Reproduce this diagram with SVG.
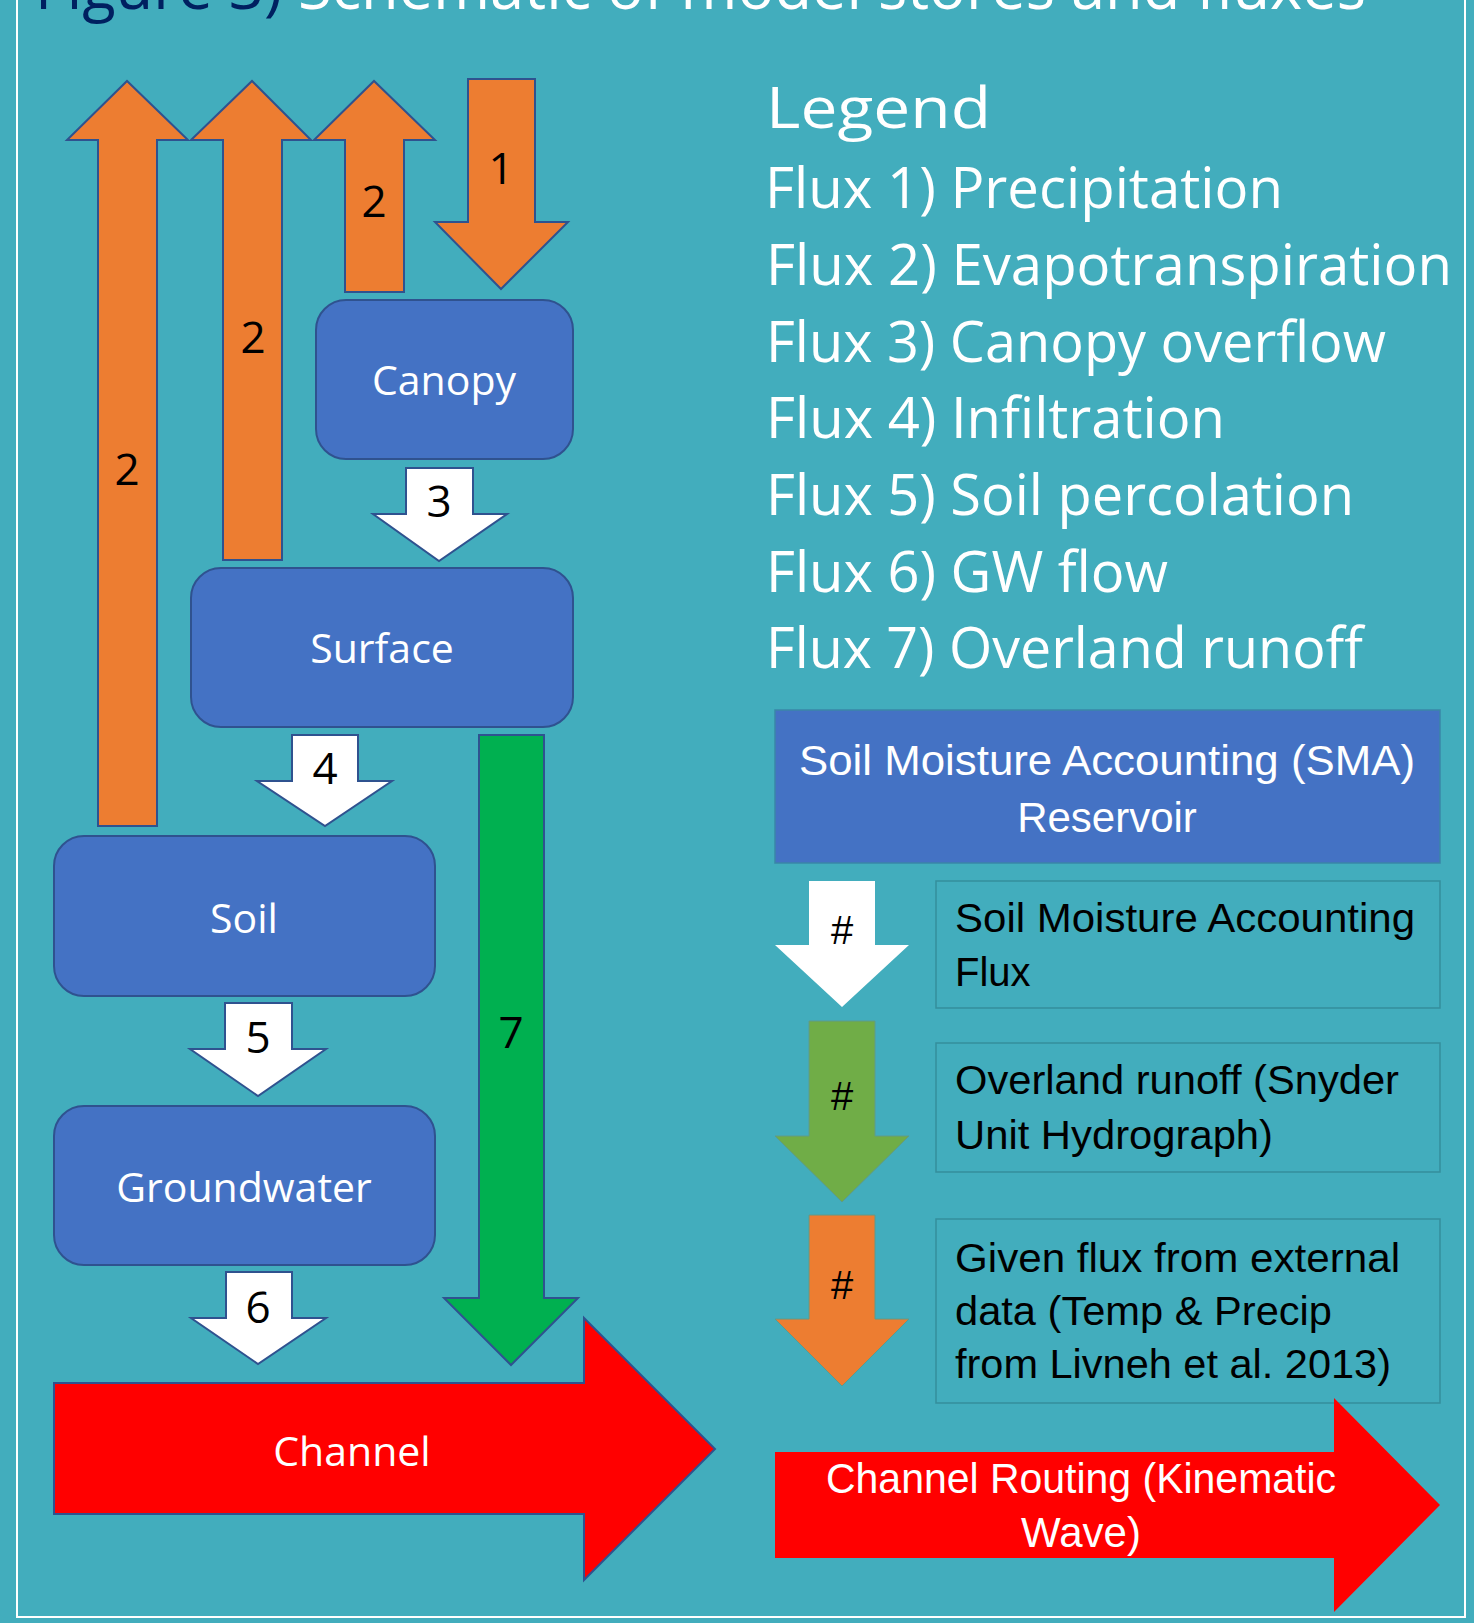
<svg xmlns="http://www.w3.org/2000/svg" width="1474" height="1623" viewBox="0 0 1474 1623">
<style>
.arr{stroke:#2F528F;stroke-width:2;stroke-linejoin:miter}
.or{fill:#ED7D31}
.wh{fill:#FFFFFF}
.gr{fill:#00B050}
.red{fill:#FF0000}
.node{fill:#4472C4;stroke:#2F528F;stroke-width:2}
.nl{font-family:"Open Sans","Liberation Sans",sans-serif;font-size:41px;fill:#FFFFFF;text-anchor:middle}
.num{font-family:"Open Sans","Liberation Sans",sans-serif;font-size:44px;fill:#000000;text-anchor:middle}
.leg{font-family:"Open Sans","Liberation Sans",sans-serif;font-size:56px;fill:#FFFFFF}
.box{fill:none;stroke:#358E9C;stroke-width:1.5}
.bt{font-family:"Liberation Sans",Arial,sans-serif;font-size:40px;fill:#000000}
.hash{font-family:"Liberation Sans",Arial,sans-serif;font-size:40px;fill:#000000;text-anchor:middle}
.lw{font-family:"Liberation Sans",Arial,sans-serif;font-size:42px;fill:#FFFFFF;text-anchor:middle}
</style>
<rect x="0" y="0" width="1474" height="1623" fill="#42ADBD"/>
<rect x="17" y="-10" width="1448" height="1627" fill="none" stroke="#FFFFFF" stroke-width="2"/>
<text x="35" y="9" font-family="'Open Sans','Liberation Sans',sans-serif" font-size="62" textLength="1331" lengthAdjust="spacingAndGlyphs"><tspan fill="#002060">Figure 3)</tspan><tspan fill="#FFFFFF"> Schematic of model stores and fluxes</tspan></text>

<g id="connectors">
  <g id="flux2a"><polygon class="arr or" points="98,826 98,140 67,140 127,81 188,140 157,140 157,826"/><text class="num" x="127" y="485">2</text></g>
  <g id="flux2b"><polygon class="arr or" points="223,560 223,140 191,140 252,81 311,140 282,140 282,560"/><text class="num" x="253" y="353">2</text></g>
  <g id="flux2c"><polygon class="arr or" points="345,292 345,140 314,140 374,81 435,140 404,140 404,292"/><text class="num" x="374" y="217">2</text></g>
  <g id="flux1"><polygon class="arr or" points="468,79 535,79 535,222 568,222 501,289 435,222 468,222"/><text class="num" x="501" y="184">1</text></g>
  <g id="flux3"><polygon class="arr wh" points="406,468 473,468 473,514 507,514 439,561 373,514 406,514"/><text class="num" x="439" y="517">3</text></g>
  <g id="flux4"><polygon class="arr wh" points="292,735 358,735 358,781 392,781 325,826 257,781 292,781"/><text class="num" x="325" y="784">4</text></g>
  <g id="flux7"><polygon class="arr gr" points="479,735 544,735 544,1298 578,1298 511,1365 444,1298 479,1298"/><text class="num" x="511" y="1048">7</text></g>
  <g id="flux5"><polygon class="arr wh" points="225,1003 292,1003 292,1049 326,1049 258,1096 190,1049 225,1049"/><text class="num" x="258" y="1053">5</text></g>
  <g id="flux6"><polygon class="arr wh" points="226,1272 292,1272 292,1318 326,1318 258,1364 191,1318 226,1318"/><text class="num" x="258" y="1323">6</text></g>
</g>

<g id="canopy"><rect class="node" x="316" y="300" width="257" height="159" rx="30"/><text class="nl" x="444" y="395">Canopy</text></g>
<g id="surface"><rect class="node" x="191" y="568" width="382" height="159" rx="30"/><text class="nl" x="382" y="663">Surface</text></g>
<g id="soil"><rect class="node" x="54" y="836" width="381" height="160" rx="30"/><text class="nl" x="244" y="933">Soil</text></g>
<g id="groundwater"><rect class="node" x="54" y="1106" width="381" height="159" rx="30"/><text class="nl" x="244" y="1202">Groundwater</text></g>
<g id="channel"><polygon class="arr red" points="54,1383 584,1383 584,1318 715,1449 584,1580 584,1514 54,1514"/><text class="nl" x="352" y="1466">Channel</text></g>

<g id="legend">
  <text class="leg" x="766" y="128" font-size="70" textLength="225" lengthAdjust="spacingAndGlyphs">Legend</text>
  <text class="leg" x="765" y="208" textLength="518" lengthAdjust="spacingAndGlyphs">Flux 1) Precipitation</text>
  <text class="leg" x="766" y="285" textLength="686" lengthAdjust="spacingAndGlyphs">Flux 2) Evapotranspiration</text>
  <text class="leg" x="766" y="362" textLength="620" lengthAdjust="spacingAndGlyphs">Flux 3) Canopy overflow</text>
  <text class="leg" x="766" y="438" textLength="459" lengthAdjust="spacingAndGlyphs">Flux 4) Infiltration</text>
  <text class="leg" x="766" y="515" textLength="588" lengthAdjust="spacingAndGlyphs">Flux 5) Soil percolation</text>
  <text class="leg" x="766" y="592" textLength="402" lengthAdjust="spacingAndGlyphs">Flux 6) GW flow</text>
  <text class="leg" x="766" y="668" textLength="597" lengthAdjust="spacingAndGlyphs">Flux 7) Overland runoff</text>
</g>

<g id="legend-sma">
  <rect x="775" y="710" width="665" height="153" fill="#4472C4" stroke="#3A86A8" stroke-width="1.5"/>
  <text class="lw" x="1107" y="775" font-size="43" textLength="616" lengthAdjust="spacingAndGlyphs">Soil Moisture Accounting (SMA)</text>
  <text class="lw" x="1107" y="832" font-size="43">Reservoir</text>
</g>
<g id="legend-sma-flux">
  <polygon fill="#FFFFFF" points="809,881 875,881 875,945 909,945 842,1007 775,945 809,945"/>
  <text class="hash" x="842" y="944">#</text>
  <rect class="box" x="936" y="881" width="504" height="127"/>
  <text class="bt" x="955" y="932" textLength="460" lengthAdjust="spacingAndGlyphs">Soil Moisture Accounting</text>
  <text class="bt" x="955" y="986">Flux</text>
</g>
<g id="legend-overland">
  <polygon fill="#70AD47" stroke="#5E9A8A" stroke-width="1" points="809,1021 875,1021 875,1136 909,1136 842,1202 775,1136 809,1136"/>
  <text class="hash" x="842" y="1110">#</text>
  <rect class="box" x="936" y="1043" width="504" height="129"/>
  <text class="bt" x="955" y="1094" textLength="444" lengthAdjust="spacingAndGlyphs">Overland runoff (Snyder</text>
  <text class="bt" x="955" y="1149" textLength="318" lengthAdjust="spacingAndGlyphs">Unit Hydrograph)</text>
</g>
<g id="legend-given">
  <polygon fill="#ED7D31" stroke="#5E9A8A" stroke-width="1" points="809,1215 875,1215 875,1319 909,1319 842,1386 775,1319 809,1319"/>
  <text class="hash" x="842" y="1299">#</text>
  <rect class="box" x="936" y="1219" width="504" height="184"/>
  <text class="bt" x="955" y="1272" textLength="445" lengthAdjust="spacingAndGlyphs">Given flux from external</text>
  <text class="bt" x="955" y="1325" textLength="377" lengthAdjust="spacingAndGlyphs">data (Temp &amp; Precip</text>
  <text class="bt" x="955" y="1378" textLength="436" lengthAdjust="spacingAndGlyphs">from Livneh et al. 2013)</text>
</g>
<g id="legend-routing">
  <polygon fill="#FF0000" points="775,1452 1334,1452 1334,1398 1440,1505 1334,1612 1334,1558 775,1558"/>
  <text class="lw" x="1081" y="1493" font-size="40" textLength="510" lengthAdjust="spacingAndGlyphs">Channel Routing (Kinematic</text>
  <text class="lw" x="1081" y="1547" font-size="40">Wave)</text>
</g>
</svg>
